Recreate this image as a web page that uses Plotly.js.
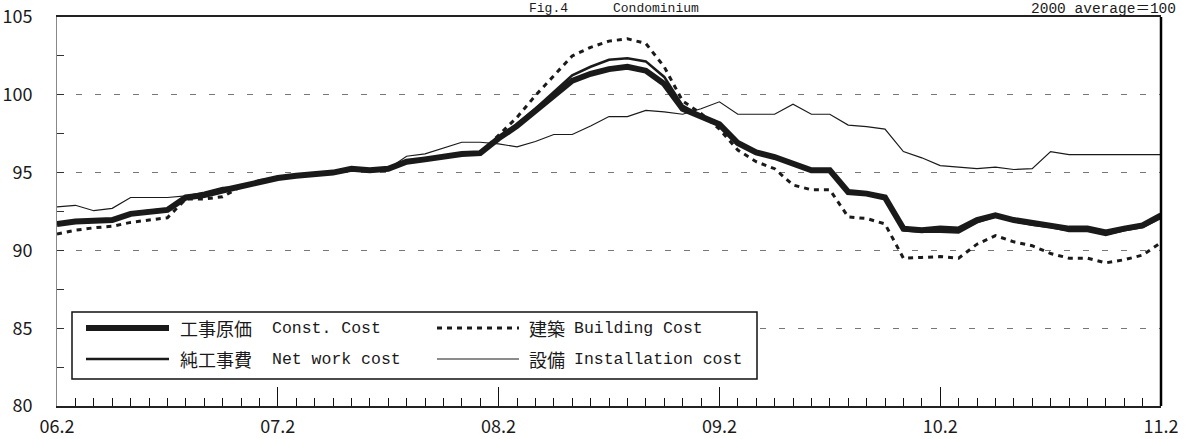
<!DOCTYPE html>
<html>
<head>
<meta charset="utf-8">
<script src="https://cdn.plot.ly/plotly-3.0.1.min.js"></script>
<style>html,body{margin:0;padding:0;background:#fff;}#chart{width:1189px;height:439px;}</style>
</head>
<body>
<div id="chart"></div>
<script>
// month index 0 = 2006.2 ... 60 = 2011.2
var months = [];
for (var m = 0; m <= 60; m++) months.push(m);
var tickVals = [0, 12, 24, 36, 48, 60];
var tickLabels = ["06.2", "07.2", "08.2", "09.2", "10.2", "11.2"];
var yTicks = [80, 85, 90, 95, 100, 105];

var constCost = [91.7,91.85,91.9,91.95,92.35,92.5,92.6,93.4,93.55,93.85,94.1,94.4,
  94.65,94.8,94.9,95.0,95.25,95.15,95.25,95.7,95.85,96.05,96.2,96.25,
  97.2,98.0,98.95,99.95,100.9,101.35,101.65,101.8,101.55,100.7,99.1,98.6,
  98.1,96.9,96.3,96.0,95.55,95.15,95.15,93.75,93.65,93.4,91.4,91.3,
  91.4,91.35,91.95,92.25,91.95,91.75,91.6,91.4,91.4,91.15,91.4,91.6,92.25];

var netWork = [91.7,91.85,91.9,91.95,92.4,92.55,92.65,93.4,93.55,93.85,94.1,94.4,
  94.65,94.8,94.9,95.0,95.25,95.15,95.25,95.7,95.85,96.05,96.2,96.25,
  97.25,98.1,99.1,100.2,101.25,101.8,102.25,102.35,102.15,101.15,99.3,98.65,
  98.15,96.95,96.35,96.05,95.6,95.15,95.15,93.7,93.6,93.35,91.3,91.2,
  91.2,91.15,91.8,92.2,91.9,91.65,91.5,91.25,91.25,91.0,91.3,91.5,92.1];

var building = [91.05,91.3,91.45,91.55,91.8,91.95,92.1,93.3,93.3,93.45,94.1,94.4,
  94.65,94.8,94.9,95.0,95.2,95.15,95.25,95.65,95.8,96.0,96.2,96.25,
  97.4,98.55,99.95,101.2,102.5,103.05,103.45,103.6,103.3,101.8,99.6,98.8,
  97.8,96.45,95.7,95.25,94.2,93.9,93.9,92.15,92.05,91.7,89.5,89.55,
  89.6,89.5,90.4,90.95,90.55,90.3,89.8,89.5,89.5,89.2,89.4,89.7,90.5];

var installation = [92.8,92.9,92.55,92.7,93.4,93.4,93.4,93.5,93.75,94.05,94.1,94.55,
  94.65,94.8,94.9,95.0,95.3,95.1,95.25,96.05,96.2,96.6,96.95,96.95,
  96.85,96.65,97.0,97.45,97.45,98.0,98.6,98.6,99.0,98.9,98.75,99.1,
  99.55,98.75,98.75,98.75,99.4,98.75,98.75,98.05,97.95,97.8,96.35,95.95,
  95.45,95.35,95.25,95.35,95.2,95.25,96.35,96.15,96.15,96.15,96.15,96.15,96.15];

var namesJa = ["工事原価", "純工事費", "建築", "設備"];
var namesEn = ["Const. Cost", "Net work cost", "Building Cost", "Installation cost"];
var unitNote = "2000 average＝100";
var titleParts = ["Fig.4", "Condominium"];

var MONO = "'Liberation Mono', 'DejaVu Sans Mono', 'Noto Sans CJK JP', monospace";
var CJK = "'Noto Sans CJK JP', 'Noto Sans', sans-serif";
var INK = "#1a1a1a";

var traces = [
  {x: months, y: installation, mode: "lines", name: namesJa[3] + " " + namesEn[3], line: {color: INK, width: 1.2}},
  {x: months, y: building, mode: "lines", name: namesJa[2] + " " + namesEn[2], line: {color: INK, width: 3, dash: "5px,5px"}},
  {x: months, y: constCost, mode: "lines", name: namesJa[0] + " " + namesEn[0], line: {color: INK, width: 6}},
  {x: months, y: netWork, mode: "lines", name: namesJa[1] + " " + namesEn[1], line: {color: INK, width: 2.6}}
];

// plot area pixel geometry helpers for legend box
var L = 57, R = 1161, T = 17, B = 406;
function px(x) { return (x - L) / (R - L); }
function py(y) { return (B - y) / (B - T); }

var row1 = 328, row2 = 359;
function seg(x0, x1, y, w, dash) {
  return {type: "line", xref: "paper", yref: "paper", x0: px(x0), x1: px(x1), y0: py(y), y1: py(y),
          line: {color: INK, width: w, dash: dash || "solid"}, layer: "above"};
}
var shapes = [
  {type: "line", xref: "paper", yref: "paper", x0: 1, x1: 1, y0: 0, y1: 1, line: {color: "#000", width: 2.5}},
  {type: "rect", xref: "paper", yref: "paper", x0: px(72), x1: px(757), y0: py(379), y1: py(312),
   fillcolor: "#fff", line: {color: "#111", width: 1.5}, layer: "above"},
  seg(86, 169, row1, 6),
  seg(86, 169, row2, 2.6),
  seg(437, 519, row1, 3, "5px,5px"),
  seg(437, 519, row2, 1.2)
];

function txt(x, y, s, fam, size, anchor) {
  return {xref: "paper", yref: "paper", x: px(x), y: py(y), xanchor: anchor || "left", yanchor: "middle",
          showarrow: false, text: s, font: {family: fam, size: size, color: INK}, borderpad: 0};
}
var annotations = [
  txt(179, row1, namesJa[0], CJK, 18),
  txt(179, row2, namesJa[1], CJK, 18),
  txt(271, row1, namesEn[0], MONO, 16.5),
  txt(271, row2, namesEn[1], MONO, 16.5),
  txt(528, row1, namesJa[2], CJK, 18),
  txt(528, row2, namesJa[3], CJK, 18),
  txt(573, row1, namesEn[2], MONO, 16.5),
  txt(573, row2, namesEn[3], MONO, 16.5),
  {xref: "paper", yref: "paper", x: px(1177), y: py(0), xanchor: "right", yanchor: "top", showarrow: false,
   text: unitNote, font: {family: MONO, size: 14.5, color: INK}, borderpad: 0},
  {xref: "paper", yref: "paper", x: px(528), y: py(0), xanchor: "left", yanchor: "top", showarrow: false,
   text: titleParts[0], font: {family: MONO, size: 13, color: INK}, borderpad: 0},
  {xref: "paper", yref: "paper", x: px(612), y: py(0), xanchor: "left", yanchor: "top", showarrow: false,
   text: titleParts[1], font: {family: MONO, size: 13, color: INK}, borderpad: 0}
];

var layout = {
  width: 1189, height: 439,
  margin: {l: L, r: 1189 - R, t: T, b: 439 - B, pad: 0},
  paper_bgcolor: "#fff", plot_bgcolor: "#fff",
  showlegend: false,
  font: {family: CJK, size: 18, color: INK},
  xaxis: {
    range: [0, 60], tickmode: "array", tickvals: tickVals, ticktext: tickLabels,
    ticks: "inside", ticklen: 19, tickwidth: 1, tickcolor: "#111",
    minor: {dtick: 1, ticks: "inside", ticklen: 8, tickwidth: 1, tickcolor: "#111", showgrid: false},
    showgrid: false, zeroline: false,
    showline: true, linecolor: "#222", linewidth: 2, mirror: true,
    tickfont: {family: CJK, size: 18, color: INK}, ticklabelstandoff: 3
  },
  yaxis: {
    range: [80, 105], tickmode: "array", tickvals: yTicks, ticktext: yTicks.map(String),
    ticks: "inside", ticklen: 7, tickwidth: 1, tickcolor: "#333",
    minor: {dtick: 2.5, ticks: "inside", ticklen: 7, tickwidth: 1, tickcolor: "#333", showgrid: false},
    showgrid: true, gridcolor: "#777", gridwidth: 1, griddash: "6px,13px",
    zeroline: false, showline: true, linecolor: "#888", linewidth: 1,
    tickfont: {family: CJK, size: 18, color: INK}, ticklabelstandoff: 20
  },
  shapes: shapes,
  annotations: annotations
};

Plotly.newPlot("chart", traces, layout, {staticPlot: true, displayModeBar: false});
</script>
</body>
</html>
